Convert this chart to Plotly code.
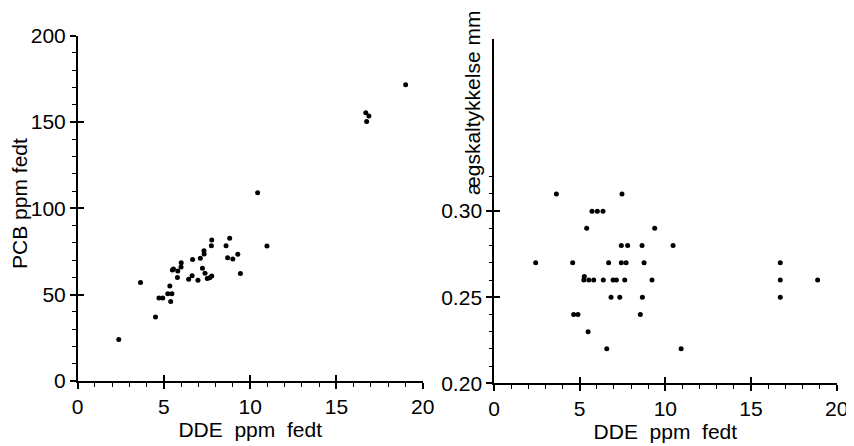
import plotly.graph_objects as go

# DDE vs PCB (left panel)
dde_pcb = [2.38, 3.64, 4.51, 4.71, 4.93, 5.22, 5.46, 5.39, 5.34, 5.49, 5.55, 5.78, 5.80, 5.99,
           6.00, 6.43, 6.63, 6.66, 6.97, 7.11, 7.23, 7.32, 7.33, 7.38, 7.51, 7.65, 7.77, 7.75,
           7.77, 8.60, 8.81, 8.69, 8.99, 9.28, 9.43, 10.43, 10.97, 16.70, 16.75, 16.88, 19.01]
pcb = [24, 57, 37, 48, 48, 50.5, 50.5, 46, 55, 64.3, 64.8, 60, 63.7, 66,
       68.5, 59, 61, 70.3, 58.3, 71.1, 65.3, 75.5, 73.5, 62.4, 59.4, 59.8, 60.8, 78.4,
       81.7, 78.4, 82.7, 71.4, 70.7, 73.4, 62.2, 109, 78.2, 155.4, 150.3, 153.5, 171.6]

# DDE vs eggshell thickness (right panel)
dde_shell = [2.43, 3.64, 4.59, 4.65, 4.90, 5.41, 5.27, 5.24, 5.53, 5.82, 5.49, 5.72, 6.03,
             6.36, 6.38, 6.58, 6.69, 6.83, 6.95, 7.14, 7.34, 7.43, 7.80, 7.43, 7.71, 7.47,
             7.63, 8.54, 8.64, 8.66, 8.76, 9.22, 9.38, 10.45, 10.92, 16.71, 16.71, 16.71, 18.89]
shell = [0.27, 0.31, 0.27, 0.24, 0.24, 0.29, 0.262, 0.26, 0.26, 0.26, 0.23, 0.30, 0.30,
         0.30, 0.26, 0.22, 0.27, 0.25, 0.26, 0.26, 0.25, 0.28, 0.28, 0.27, 0.27, 0.31,
         0.26, 0.24, 0.28, 0.25, 0.27, 0.26, 0.29, 0.28, 0.22, 0.27, 0.26, 0.25, 0.26]

x_ticks = [0, 5, 10, 15, 20]
pcb_ticks = [0, 50, 100, 150, 200]
shell_ticks = [0.20, 0.25, 0.30]
shell_tick_text = ['0.20', '0.25', '0.30']
shell_minor = [0.21, 0.22, 0.23, 0.24, 0.26, 0.27, 0.28, 0.29, 0.31, 0.32]

FONT = 'Liberation Sans, Arial, sans-serif'
NONE = 'rgba(0,0,0,0)'
marker = dict(color='black', size=5)

# plot areas (paper fractions); the figure sits inside the page's 8px body margin
LEFT_X, LEFT_Y = [0.0824, 0.4902], [0.1484, 0.9368]
RIGHT_X, RIGHT_Y = [0.5745, 0.9795], [0.1432, 0.9292]

fig = go.Figure()
fig.add_trace(go.Scatter(x=dde_pcb, y=pcb, mode='markers', marker=marker,
                         xaxis='x', yaxis='y', showlegend=False))
fig.add_trace(go.Scatter(x=dde_shell, y=shell, mode='markers', marker=marker,
                         xaxis='x2', yaxis='y2', showlegend=False))
# invisible traces on the extra tick-layer subplots
for i, (xs, ys) in zip(range(3, 6), [(dde_pcb, pcb), (dde_shell, shell), (dde_shell, shell)]):
    fig.add_trace(go.Scatter(x=xs[:1], y=ys[:1], mode='markers', marker=dict(opacity=0),
                             xaxis=f'x{i}', yaxis=f'y{i}', showlegend=False, hoverinfo='skip'))

line = dict(showline=True, linecolor='black', linewidth=1.5, showgrid=False, zeroline=False,
            ticks='outside', ticklen=6, tickwidth=1.5, tickcolor='black', automargin=False,
            tickfont=dict(size=21, color='black'))
minor_x = dict(dtick=1, ticks='outside', ticklen=4, tickwidth=1.2, tickcolor='black')
# tick-only layers: line and labels kept but made transparent
layer = dict(showline=True, linecolor=NONE, showgrid=False, zeroline=False, tickcolor='black',
             showticklabels=True, ticklabelposition='inside',
             tickfont=dict(size=2, color=NONE), automargin=False)
inner = dict(ticks='inside', ticklen=6, tickwidth=1.5, **layer)
xtitle = dict(text='DDE\u00a0\u00a0ppm\u00a0\u00a0fedt', font=dict(size=21, color='black'), standoff=4)

fig.update_layout(
    width=846, height=438,
    margin=dict(l=0, r=0, t=0, b=0),
    paper_bgcolor='white', plot_bgcolor=NONE,
    font=dict(family=FONT, color='black'),
    xaxis=dict(domain=LEFT_X, anchor='y', range=[0, 20], tickmode='linear', tick0=0, dtick=5,
               minor=minor_x, title=xtitle, **line),
    yaxis=dict(domain=LEFT_Y, anchor='x', range=[0, 200], tickmode='linear', tick0=0, dtick=50,
               minor=dict(dtick=10, ticks='outside', ticklen=4, tickwidth=1.2, tickcolor='black'),
               **line),
    xaxis2=dict(domain=RIGHT_X, anchor='y2', range=[0, 20], tickmode='linear', tick0=0, dtick=5,
                minor=minor_x, title=xtitle, **line),
    yaxis2=dict(domain=RIGHT_Y, anchor='x2', range=[0.20, 0.40],
                tickvals=shell_ticks, ticktext=shell_tick_text, **line),
    # inner halves of the crossing major ticks
    xaxis3=dict(domain=LEFT_X, anchor='y3', range=[0, 20], tickvals=x_ticks, **inner),
    yaxis3=dict(domain=LEFT_Y, anchor='x3', range=[0, 200], tickvals=pcb_ticks, **inner),
    xaxis4=dict(domain=RIGHT_X, anchor='y4', range=[0, 20], tickvals=x_ticks, **inner),
    yaxis4=dict(domain=RIGHT_Y, anchor='x4', range=[0.20, 0.40], tickvals=shell_ticks, **inner),
    # minor ticks of the eggshell axis (only up to 0.32)
    xaxis5=dict(domain=RIGHT_X, anchor='y5', range=[0, 20], ticks='', showline=True,
                linecolor=NONE, showgrid=False, zeroline=False, showticklabels=False,
                automargin=False),
    yaxis5=dict(domain=RIGHT_Y, anchor='x5', range=[0.20, 0.40], tickvals=shell_minor,
                ticks='outside', ticklen=4, tickwidth=1.2, **layer),
)

fig.add_annotation(text='PCB ppm fedt', textangle=-90, showarrow=False,
                   xref='paper', yref='paper', x=0.0135, y=0.5537,
                   xanchor='center', yanchor='middle', font=dict(size=21, color='black'))
fig.add_annotation(text='ægskaltykkelse mm', textangle=-90, showarrow=False,
                   xref='paper', yref='paper', x=0.5496, y=0.5685,
                   xanchor='center', yanchor='bottom', font=dict(size=21, color='black'))

fig.write_html('out.html')
